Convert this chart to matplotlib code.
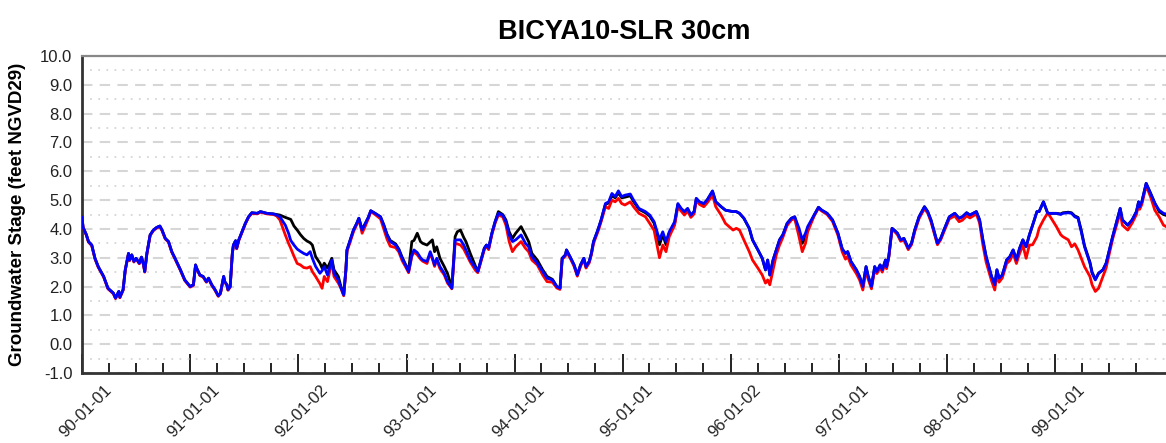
import numpy as np
import matplotlib
matplotlib.use("Agg")
import matplotlib.pyplot as plt
import matplotlib.dates as mdates
from matplotlib.ticker import MultipleLocator, FormatStrFormatter
from matplotlib.transforms import ScaledTranslation

plt.rcParams['font.family'] = ['Liberation Sans', 'DejaVu Sans']

title = "BICYA10-SLR 30cm"
ylabel = "Groundwater Stage (feet NGVD29)"
tick_labels = ["90-01-01", "91-01-01", "92-01-02", "93-01-01", "94-01-01",
               "95-01-01", "96-01-02", "97-01-01", "98-01-01", "99-01-01"]

# decimal years
years = [
    1990.00, 1990.01, 1990.04, 1990.06, 1990.09, 1990.12, 1990.15, 1990.20, 1990.24, 1990.29,
    1990.31, 1990.34, 1990.35, 1990.38, 1990.40, 1990.43, 1990.44, 1990.46, 1990.48, 1990.50,
    1990.53, 1990.55, 1990.57, 1990.58, 1990.60, 1990.63, 1990.66, 1990.69, 1990.72, 1990.74,
    1990.77, 1990.80, 1990.83, 1990.86, 1990.91, 1990.95, 1991.00, 1991.03, 1991.05, 1991.06,
    1991.09, 1991.12, 1991.15, 1991.17, 1991.20, 1991.23, 1991.26, 1991.28, 1991.31, 1991.32,
    1991.34, 1991.35, 1991.37, 1991.39, 1991.40, 1991.42, 1991.43, 1991.45, 1991.48, 1991.51,
    1991.54, 1991.57, 1991.62, 1991.65, 1991.71, 1991.77, 1991.80, 1991.83, 1991.88, 1991.91,
    1991.93, 1991.96, 1991.99, 1992.02, 1992.05, 1992.08, 1992.11, 1992.13, 1992.16, 1992.20,
    1992.22, 1992.24, 1992.27, 1992.31, 1992.33, 1992.37, 1992.39, 1992.42, 1992.44, 1992.45,
    1992.48, 1992.51, 1992.54, 1992.56, 1992.59, 1992.62, 1992.65, 1992.67, 1992.71, 1992.76,
    1992.79, 1992.82, 1992.85, 1992.90, 1992.93, 1992.96, 1992.99, 1993.02, 1993.05, 1993.07,
    1993.10, 1993.13, 1993.15, 1993.19, 1993.22, 1993.24, 1993.26, 1993.28, 1993.31, 1993.35,
    1993.38, 1993.42, 1993.45, 1993.47, 1993.50, 1993.53, 1993.55, 1993.59, 1993.64, 1993.66,
    1993.69, 1993.72, 1993.74, 1993.76, 1993.79, 1993.82, 1993.85, 1993.89, 1993.92, 1993.95,
    1993.98, 1994.01, 1994.06, 1994.10, 1994.13, 1994.16, 1994.21, 1994.26, 1994.30, 1994.35,
    1994.39, 1994.42, 1994.44, 1994.47, 1994.48, 1994.52, 1994.55, 1994.58, 1994.61, 1994.64,
    1994.66, 1994.69, 1994.71, 1994.73, 1994.77, 1994.80, 1994.84, 1994.87, 1994.90, 1994.93,
    1994.96, 1994.99, 1995.02, 1995.07, 1995.10, 1995.15, 1995.21, 1995.25, 1995.29, 1995.34,
    1995.37, 1995.40, 1995.43, 1995.48, 1995.51, 1995.54, 1995.57, 1995.60, 1995.63, 1995.66,
    1995.68, 1995.71, 1995.75, 1995.78, 1995.83, 1995.86, 1995.91, 1995.95, 1996.02, 1996.05,
    1996.08, 1996.12, 1996.17, 1996.20, 1996.25, 1996.29, 1996.32, 1996.34, 1996.36, 1996.39,
    1996.42, 1996.45, 1996.48, 1996.52, 1996.56, 1996.59, 1996.63, 1996.66, 1996.69, 1996.71,
    1996.77, 1996.81, 1996.84, 1996.89, 1996.94, 1996.99, 1997.03, 1997.06, 1997.08, 1997.11,
    1997.16, 1997.19, 1997.22, 1997.25, 1997.27, 1997.30, 1997.33, 1997.35, 1997.38, 1997.40,
    1997.43, 1997.44, 1997.46, 1997.49, 1997.51, 1997.54, 1997.57, 1997.60, 1997.64, 1997.67,
    1997.70, 1997.74, 1997.79, 1997.82, 1997.85, 1997.88, 1997.91, 1997.94, 1997.97, 1998.02,
    1998.07, 1998.11, 1998.14, 1998.18, 1998.21, 1998.24, 1998.27, 1998.30, 1998.33, 1998.36,
    1998.41, 1998.44, 1998.46, 1998.48, 1998.51, 1998.55, 1998.58, 1998.61, 1998.64, 1998.67,
    1998.70, 1998.73, 1998.76, 1998.79, 1998.83, 1998.85, 1998.89, 1998.93, 1999.01, 1999.05,
    1999.07, 1999.12, 1999.15, 1999.18, 1999.21, 1999.24, 1999.27, 1999.32, 1999.34, 1999.37,
    1999.40, 1999.44, 1999.47, 1999.50, 1999.53, 1999.58, 1999.60, 1999.62, 1999.67, 1999.71,
    1999.75, 1999.77, 1999.78, 1999.80, 1999.84, 1999.88, 1999.92, 1999.96, 2000.00, 2000.04,
]

blue_stage = [
    4.40, 4.05, 3.80, 3.56, 3.44, 2.98, 2.69, 2.35, 1.94, 1.77,
    1.60, 1.83, 1.63, 1.89, 2.58, 3.15, 2.92, 3.10, 2.87, 2.98,
    2.81, 3.02, 2.75, 2.52, 3.15, 3.79, 3.96, 4.05, 4.10, 3.96,
    3.67, 3.56, 3.21, 2.98, 2.58, 2.23, 2.00, 2.06, 2.75, 2.64,
    2.40, 2.35, 2.17, 2.29, 2.06, 1.89, 1.68, 1.77, 2.35, 2.17,
    2.06, 1.89, 2.00, 3.15, 3.44, 3.59, 3.33, 3.62, 3.90, 4.19,
    4.42, 4.56, 4.54, 4.60, 4.54, 4.52, 4.48, 4.42, 4.13, 3.85,
    3.60, 3.44, 3.30, 3.22, 3.15, 3.10, 3.21, 2.98, 2.70, 2.46,
    2.55, 2.69, 2.40, 2.92, 2.46, 2.23, 2.00, 1.71, 2.58, 3.27,
    3.62, 3.96, 4.19, 4.37, 3.96, 4.19, 4.42, 4.63, 4.54, 4.42,
    4.13, 3.79, 3.56, 3.44, 3.27, 2.98, 2.75, 2.52, 3.10, 3.27,
    3.18, 3.00, 2.92, 2.87, 3.21, 3.00, 2.75, 2.98, 2.69, 2.46,
    2.17, 1.94, 3.60, 3.62, 3.62, 3.44, 3.27, 2.92, 2.64, 2.52,
    2.92, 3.33, 3.44, 3.33, 3.85, 4.25, 4.54, 4.48, 4.25, 3.79,
    3.56, 3.62, 3.79, 3.50, 3.38, 3.04, 2.81, 2.52, 2.29, 2.23,
    2.00, 1.94, 2.98, 3.10, 3.27, 2.98, 2.75, 2.40, 2.75, 2.98,
    2.69, 2.87, 3.15, 3.56, 3.96, 4.31, 4.88, 4.94, 5.23, 5.12,
    5.32, 5.12, 5.17, 5.21, 5.00, 4.71, 4.60, 4.48, 4.25, 3.62,
    3.90, 3.56, 3.90, 4.25, 4.88, 4.71, 4.60, 4.71, 4.48, 4.60,
    5.06, 4.94, 4.88, 5.00, 5.32, 4.94, 4.77, 4.65, 4.60, 4.60,
    4.54, 4.37, 4.02, 3.62, 3.27, 2.98, 2.58, 2.92, 2.40, 2.92,
    3.27, 3.62, 3.79, 4.19, 4.37, 4.42, 4.02, 3.62, 3.85, 4.08,
    4.48, 4.75, 4.65, 4.54, 4.31, 3.85, 3.30, 3.15, 3.21, 2.87,
    2.58, 2.35, 2.00, 2.69, 2.35, 2.00, 2.69, 2.52, 2.75, 2.58,
    2.92, 2.69, 3.04, 4.02, 3.96, 3.85, 3.62, 3.67, 3.33, 3.50,
    3.96, 4.42, 4.77, 4.60, 4.31, 3.90, 3.50, 3.67, 3.96, 4.42,
    4.54, 4.37, 4.42, 4.56, 4.48, 4.54, 4.60, 4.31, 3.62, 3.04,
    2.35, 2.06, 2.58, 2.29, 2.40, 2.92, 3.04, 3.27, 2.92, 3.33,
    3.62, 3.38, 3.79, 4.13, 4.60, 4.60, 4.94, 4.54, 4.54, 4.50,
    4.54, 4.56, 4.54, 4.42, 4.37, 3.90, 3.38, 2.81, 2.46, 2.23,
    2.46, 2.58, 2.81, 3.27, 3.73, 4.42, 4.71, 4.31, 4.13, 4.31,
    4.60, 4.94, 4.77, 4.94, 5.58, 5.23, 4.88, 4.65, 4.54, 4.50,
]

red_stage = [
    4.40, 4.05, 3.78, 3.54, 3.42, 2.96, 2.67, 2.33, 1.92, 1.75,
    1.58, 1.81, 1.61, 1.87, 2.56, 3.13, 2.90, 3.08, 2.85, 2.96,
    2.79, 3.00, 2.73, 2.50, 3.13, 3.77, 3.94, 4.03, 4.08, 3.94,
    3.65, 3.54, 3.19, 2.96, 2.56, 2.21, 1.98, 2.04, 2.73, 2.62,
    2.38, 2.33, 2.15, 2.27, 2.04, 1.87, 1.66, 1.75, 2.33, 2.15,
    2.04, 1.87, 1.98, 3.13, 3.42, 3.57, 3.31, 3.60, 3.88, 4.17,
    4.40, 4.54, 4.52, 4.58, 4.52, 4.50, 4.45, 4.31, 3.79, 3.50,
    3.33, 3.05, 2.80, 2.75, 2.66, 2.64, 2.69, 2.52, 2.35, 2.10,
    1.94, 2.35, 2.17, 2.87, 2.35, 2.12, 1.98, 1.68, 2.55, 3.22,
    3.55, 3.90, 4.15, 4.33, 3.85, 4.10, 4.38, 4.60, 4.50, 4.35,
    4.00, 3.65, 3.40, 3.35, 3.20, 2.90, 2.70, 2.48, 3.05, 3.20,
    3.10, 2.95, 2.88, 2.80, 3.15, 2.95, 2.70, 2.92, 2.62, 2.40,
    2.12, 1.92, 3.50, 3.48, 3.44, 3.30, 3.15, 2.85, 2.55, 2.48,
    2.88, 3.28, 3.40, 3.28, 3.80, 4.20, 4.48, 4.42, 4.13, 3.56,
    3.21, 3.38, 3.56, 3.33, 3.21, 2.92, 2.75, 2.40, 2.17, 2.15,
    1.95, 1.90, 2.95, 3.06, 3.22, 2.94, 2.70, 2.36, 2.70, 2.94,
    2.64, 2.82, 3.10, 3.50, 3.90, 4.25, 4.77, 4.71, 5.00, 4.94,
    5.06, 4.88, 4.83, 4.94, 4.77, 4.54, 4.42, 4.19, 3.95, 3.00,
    3.44, 3.21, 3.73, 4.13, 4.77, 4.62, 4.48, 4.62, 4.40, 4.52,
    4.98, 4.85, 4.77, 4.90, 5.17, 4.77, 4.48, 4.19, 3.96, 4.02,
    3.96, 3.62, 3.21, 2.92, 2.64, 2.40, 2.12, 2.23, 2.06, 2.58,
    3.10, 3.44, 3.70, 4.12, 4.31, 4.36, 3.73, 3.21, 3.50, 3.90,
    4.45, 4.72, 4.62, 4.50, 4.26, 3.78, 3.20, 2.95, 3.05, 2.75,
    2.45, 2.23, 1.88, 2.58, 2.25, 1.92, 2.60, 2.45, 2.65, 2.50,
    2.85, 2.62, 3.00, 3.98, 3.92, 3.80, 3.57, 3.62, 3.28, 3.45,
    3.90, 4.36, 4.70, 4.55, 4.25, 3.85, 3.45, 3.62, 3.90, 4.35,
    4.45, 4.25, 4.30, 4.45, 4.38, 4.45, 4.52, 4.20, 3.45, 2.85,
    2.20, 1.88, 2.40, 2.15, 2.30, 2.80, 2.90, 3.15, 2.80, 3.15,
    3.44, 2.98, 3.44, 3.45, 3.73, 4.02, 4.31, 4.56, 4.08, 3.80,
    3.73, 3.62, 3.38, 3.48, 3.27, 2.98, 2.69, 2.35, 2.06, 1.83,
    1.94, 2.35, 2.65, 3.15, 3.65, 4.31, 4.55, 4.13, 3.96, 4.20,
    4.50, 4.85, 4.68, 4.85, 5.50, 5.12, 4.65, 4.42, 4.13, 4.05,
]

black_stage = [
    4.40, 4.05, 3.80, 3.56, 3.44, 2.98, 2.69, 2.35, 1.94, 1.77,
    1.60, 1.83, 1.63, 1.89, 2.58, 3.15, 2.92, 3.10, 2.87, 2.98,
    2.81, 3.02, 2.75, 2.52, 3.15, 3.79, 3.96, 4.05, 4.10, 3.96,
    3.67, 3.56, 3.21, 2.98, 2.58, 2.23, 2.00, 2.06, 2.75, 2.64,
    2.40, 2.35, 2.17, 2.29, 2.06, 1.89, 1.68, 1.77, 2.35, 2.17,
    2.06, 1.89, 2.00, 3.15, 3.44, 3.59, 3.33, 3.62, 3.90, 4.19,
    4.42, 4.56, 4.54, 4.60, 4.54, 4.52, 4.50, 4.48, 4.40, 4.36,
    4.33, 4.10, 3.96, 3.80, 3.67, 3.58, 3.52, 3.44, 3.04, 2.81,
    2.64, 2.81, 2.64, 2.98, 2.58, 2.35, 2.06, 1.71, 2.58, 3.27,
    3.62, 3.96, 4.19, 4.37, 3.98, 4.19, 4.42, 4.63, 4.54, 4.42,
    4.15, 3.82, 3.60, 3.48, 3.30, 3.02, 2.78, 2.55, 3.56, 3.60,
    3.85, 3.56, 3.50, 3.44, 3.55, 3.62, 3.21, 3.38, 2.98, 2.69,
    2.45, 1.96, 3.73, 3.90, 3.96, 3.70, 3.56, 3.15, 2.69, 2.52,
    2.92, 3.33, 3.44, 3.33, 3.85, 4.25, 4.60, 4.50, 4.31, 3.90,
    3.67, 3.85, 4.08, 3.79, 3.56, 3.15, 2.92, 2.58, 2.35, 2.25,
    2.00, 1.94, 2.98, 3.10, 3.27, 2.98, 2.75, 2.40, 2.75, 2.98,
    2.69, 2.87, 3.15, 3.56, 3.96, 4.31, 4.85, 4.90, 5.15, 5.08,
    5.25, 5.08, 5.10, 5.15, 4.95, 4.68, 4.56, 4.44, 4.20, 3.45,
    3.80, 3.45, 3.85, 4.20, 4.85, 4.70, 4.58, 4.70, 4.47, 4.60,
    5.05, 4.93, 4.87, 5.00, 5.30, 4.94, 4.77, 4.65, 4.60, 4.60,
    4.54, 4.37, 4.02, 3.62, 3.27, 2.98, 2.58, 2.92, 2.40, 2.92,
    3.27, 3.62, 3.79, 4.19, 4.37, 4.42, 3.90, 3.50, 3.70, 4.00,
    4.48, 4.75, 4.65, 4.54, 4.31, 3.85, 3.30, 3.15, 3.21, 2.87,
    2.58, 2.35, 2.00, 2.69, 2.35, 2.00, 2.69, 2.52, 2.75, 2.58,
    2.92, 2.69, 3.04, 4.02, 3.96, 3.85, 3.62, 3.67, 3.33, 3.50,
    3.96, 4.42, 4.77, 4.60, 4.31, 3.90, 3.50, 3.67, 3.96, 4.42,
    4.54, 4.37, 4.42, 4.56, 4.48, 4.54, 4.60, 4.31, 3.62, 3.04,
    2.35, 2.06, 2.58, 2.29, 2.40, 2.92, 3.04, 3.27, 2.92, 3.33,
    3.62, 3.38, 3.79, 4.13, 4.60, 4.60, 4.94, 4.54, 4.54, 4.52,
    4.56, 4.58, 4.56, 4.45, 4.40, 3.95, 3.42, 2.85, 2.50, 2.25,
    2.46, 2.58, 2.81, 3.27, 3.73, 4.42, 4.71, 4.31, 4.13, 4.31,
    4.60, 4.94, 4.77, 4.94, 5.58, 5.25, 4.90, 4.60, 4.50, 4.45,
]


def to_dates(yrs):
    yrs = np.asarray(yrs, dtype=float)
    secs = np.round((yrs - 1990.0) * 365.25 * 86400).astype('int64')
    return np.datetime64('1990-01-01T00:00:00') + secs.astype('timedelta64[s]')


dates = to_dates(years)
tick_dates = np.array(["19" + t for t in tick_labels], dtype='datetime64[D]')

W, H = 1166, 443
fig = plt.figure(figsize=(W / 100, H / 100), dpi=100)
ax = fig.add_axes([82 / W, 1 - 373 / H, (W - 82) / W + 0.001, (373 - 56) / H])

ax.plot(dates, black_stage, color='black', lw=2.0, zorder=3)
ax.plot(dates, red_stage, color='#ff0000', lw=2.0, zorder=4)
ax.plot(dates, blue_stage, color='#0000ff', lw=2.0, zorder=5)

ax.set_ylim(-1.0, 10.0)
ax.set_xlim(np.datetime64('1990-01-01'), np.datetime64('2000-01-14'))

ax.yaxis.set_major_locator(MultipleLocator(1.0))
ax.yaxis.set_minor_locator(MultipleLocator(0.5))
ax.yaxis.set_major_formatter(FormatStrFormatter('%.1f'))
ax.grid(which='major', axis='y', color='#d6d6d6', lw=1.5, ls=(0, (5, 3.5)), zorder=1)
ax.grid(which='minor', axis='y', color='#d6d6d6', lw=1.3, ls=(0, (1, 3.5)), zorder=1)
ax.tick_params(axis='y', which='both', length=0, pad=7, labelsize=12, labelcolor='#222222')

ax.set_xticks(tick_dates)
ax.set_xticklabels(tick_labels)
ax.xaxis.set_minor_locator(mdates.MonthLocator(bymonth=[4, 7, 10]))
ax.tick_params(axis='x', which='major', direction='in', length=14, width=1.4,
               color='#222222', labelsize=12, pad=7, labelcolor='#222222')
ax.tick_params(axis='x', which='minor', direction='in', length=7, width=1.4, color='#222222')
offset = ScaledTranslation(22 / 100, 0, fig.dpi_scale_trans)
for lab in ax.get_xticklabels():
    lab.set_rotation(45)
    lab.set_rotation_mode('anchor')
    lab.set_ha('right')
    lab.set_va('top')
    lab.set_transform(lab.get_transform() + offset)

for s in ['left', 'bottom']:
    ax.spines[s].set_color('#333333')
    ax.spines[s].set_linewidth(2.0)
ax.spines['top'].set_color('#888888')
ax.spines['top'].set_linewidth(1.6)
ax.spines['right'].set_visible(False)

ax.set_title(title, fontsize=19.5, fontweight='bold', pad=12)
fig.text(18 / W, 1 - 214 / H, ylabel, rotation=90, ha='center', va='center',
         fontsize=13.5, fontweight='bold')

fig.savefig('out.png', dpi=100)
